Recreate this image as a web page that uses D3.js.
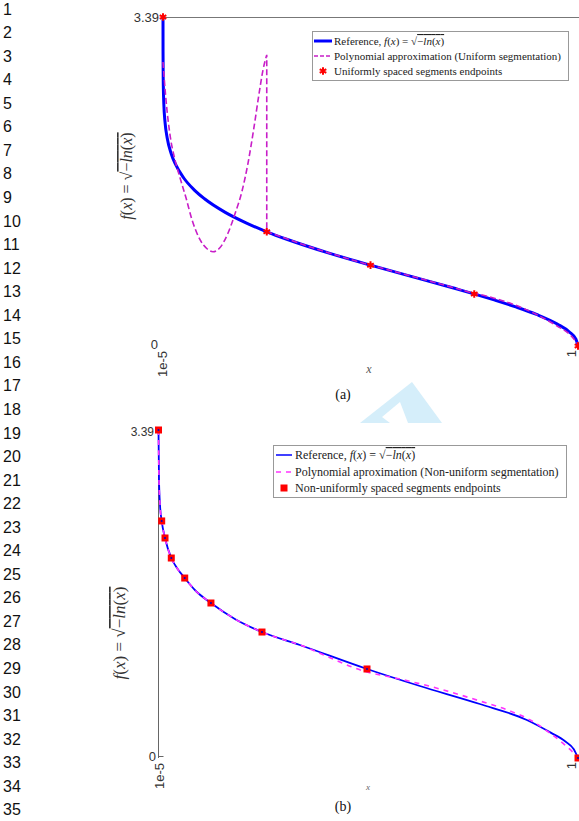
<!DOCTYPE html>
<html>
<head>
<meta charset="utf-8">
<script src="https://cdn.jsdelivr.net/npm/d3@7"></script>
<style>
  body { margin: 0; background: #fff; }
  svg { display: block; }
</style>
</head>
<body>
<svg id="fig" width="579" height="821"></svg>
<script>
// ---- data ----
// panel (a): reference curve f(x) = sqrt(-ln x)
const refAX = [0.00001, 0.0001, 0.0005, 0.002, 0.005, 0.01, 0.02, 0.03, 0.05, 0.075, 0.1, 0.15, 0.2, 0.25, 0.3, 0.4, 0.5, 0.6, 0.7, 0.8, 0.85, 0.9, 0.95, 0.98, 0.995, 1]
const refAY = [3.393, 3.035, 2.757, 2.493, 2.302, 2.146, 1.978, 1.873, 1.731, 1.609, 1.517, 1.377, 1.269, 1.177, 1.097, 0.957, 0.833, 0.715, 0.597, 0.472, 0.403, 0.325, 0.226, 0.142, 0.071, 0]

// panel (a): polynomial approximation, one array per uniform segment
const polyASeg1X = [0.00001, 0.0072, 0.0169, 0.0289, 0.041, 0.0554, 0.0699, 0.0892, 0.106, 0.1205, 0.137, 0.157, 0.1735, 0.19, 0.205, 0.219, 0.231, 0.241, 0.25]
const polyASeg1Y = [2.927, 2.536, 2.175, 1.918, 1.733, 1.527, 1.301, 1.095, 1.002, 0.971, 1.012, 1.167, 1.362, 1.589, 1.887, 2.247, 2.587, 2.845, 3.0]
const polyASeg2X = [0.25, 0.3, 0.35, 0.4, 0.45, 0.5]
const polyASeg2Y = [1.177, 1.102, 1.027, 0.959, 0.894, 0.833]
const polyASeg3X = [0.5, 0.55, 0.6, 0.65, 0.7, 0.75]
const polyASeg3Y = [0.833, 0.776, 0.718, 0.660, 0.601, 0.540]
const polyASeg4X = [0.75, 0.8, 0.85, 0.9, 0.95, 0.98, 1]
const polyASeg4Y = [0.545, 0.49, 0.42, 0.325, 0.205, 0.12, 0.02]

// panel (a): uniformly spaced endpoints
const endAX = [0.00001, 0.25, 0.5, 0.75, 1]
const endAY = [3.39, 1.177, 0.833, 0.536, 0]

// panel (b): reference curve as drawn
const refBX = [0.00001, 0.0012, 0.0036, 0.0076, 0.0155, 0.0305, 0.044, 0.0625, 0.089, 0.125, 0.182, 0.2467, 0.337, 0.497, 0.623, 0.766, 0.878, 0.935, 0.97, 0.99, 1]
const refBY = [3.39, 2.873, 2.615, 2.45, 2.274, 2.067, 1.964, 1.86, 1.726, 1.602, 1.437, 1.302, 1.168, 0.92, 0.744, 0.558, 0.393, 0.262, 0.17, 0.09, 0]

// panel (b): polynomial approximation (non-uniform segmentation)
const polyBX = [0.00001, 0.0012, 0.0036, 0.0076, 0.0155, 0.0305, 0.044, 0.0625, 0.089, 0.125, 0.182, 0.2467, 0.337, 0.497, 0.576, 0.671, 0.766, 0.838, 0.886, 0.933, 0.969, 1]
const polyBY = [3.39, 2.873, 2.615, 2.45, 2.274, 2.067, 1.964, 1.86, 1.726, 1.602, 1.437, 1.302, 1.168, 0.889, 0.816, 0.713, 0.589, 0.486, 0.393, 0.258, 0.134, 0.01]

// panel (b): non-uniformly spaced endpoints
const endBX = [0.00001, 0.0076, 0.0155, 0.0305, 0.0625, 0.125, 0.2467, 0.497, 1]
const endBY = [3.39, 2.45, 2.274, 2.067, 1.86, 1.602, 1.302, 0.92, 0]

const yTop = 3.39
const lineNumbers = d3.range(1, 36)

const zip = (xs, ys) => xs.map((x, i) => [x, ys[i]])

const svg = d3.select("#fig")
const serif = "'Liberation Serif', 'DejaVu Serif', serif"
const sans = "'Liberation Sans', Arial, sans-serif"

// line numbers down the margin
svg.append("g")
  .selectAll("text")
  .data(lineNumbers)
  .enter()
  .append("text")
  .attr("x", 3)
  .attr("y", (d, i) => 9 + i * 23.55)
  .attr("dy", "0.35em")
  .attr("font-family", sans)
  .attr("font-size", "16px")
  .attr("fill", "#111")
  .text(d => d)

// watermark
svg.append("path")
  .attr("d", "M360,423 L412,382 L442,423 L408,423 L400,402 L382,417 L390,423 Z")
  .attr("fill", "#d5eefa")

function ylabel(x, y, size) {
  const t = svg.append("text")
    .attr("transform", `translate(${x},${y}) rotate(-90)`)
    .attr("text-anchor", "middle")
    .attr("font-family", serif)
    .attr("font-size", size)
    .attr("fill", "#333")
  t.append("tspan").attr("font-style", "italic").text("f")
  t.append("tspan").text("(")
  t.append("tspan").attr("font-style", "italic").text("x")
  t.append("tspan").text(")  =  √")
  t.append("tspan").attr("text-decoration", "overline").text("−")
  t.append("tspan").attr("text-decoration", "overline").attr("font-style", "italic").text("ln")
  t.append("tspan").attr("text-decoration", "overline").text("(")
  t.append("tspan").attr("text-decoration", "overline").attr("font-style", "italic").text("x")
  t.append("tspan").attr("text-decoration", "overline").text(")")
}

function refLegendText(g, x, y, size) {
  const t = g.append("text")
    .attr("x", x).attr("y", y)
    .attr("font-family", serif)
    .attr("font-size", size)
    .attr("fill", "#222")
  t.append("tspan").text("Reference, ")
  t.append("tspan").attr("font-style", "italic").text("f")
  t.append("tspan").text("(")
  t.append("tspan").attr("font-style", "italic").text("x")
  t.append("tspan").text(") = √")
  t.append("tspan").attr("text-decoration", "overline").text("−")
  t.append("tspan").attr("text-decoration", "overline").attr("font-style", "italic").text("ln")
  t.append("tspan").attr("text-decoration", "overline").text("(")
  t.append("tspan").attr("text-decoration", "overline").attr("font-style", "italic").text("x")
  t.append("tspan").attr("text-decoration", "overline").text(")")
}

// ================= panel (a) =================
const xA = d3.scaleLinear().domain([0, 1]).range([163, 578])
const yA = d3.scaleLinear().domain([0, yTop]).range([346, 17])
const lineA = d3.line().x(d => xA(d[0])).y(d => yA(d[1])).curve(d3.curveMonotoneX)

// top frame line
svg.append("line")
  .attr("x1", xA(0)).attr("x2", 579)
  .attr("y1", yA(yTop) + 0.5).attr("y2", yA(yTop) + 0.5)
  .attr("stroke", "#777").attr("stroke-width", 1)

svg.append("path")
  .attr("d", lineA(zip(refAX, refAY)))
  .attr("fill", "none")
  .attr("stroke", "#0000ff")
  .attr("stroke-width", 3)

// join the segments so the jump between them is drawn too
const segsA = [[polyASeg1X, polyASeg1Y], [polyASeg2X, polyASeg2Y], [polyASeg3X, polyASeg3Y], [polyASeg4X, polyASeg4Y]]
const polyPathA = segsA.map((s, i) => {
  const p = lineA(zip(s[0], s[1]))
  return i === 0 ? p : "L" + p.slice(1)
}).join("")

svg.append("path")
  .attr("d", polyPathA)
  .attr("fill", "none")
  .attr("stroke", "#c81ec8")
  .attr("stroke-width", 1.6)
  .attr("stroke-dasharray", "6,3")

const star = d3.symbol().type(d3.symbolAsterisk).size(40)
svg.append("g")
  .selectAll("path")
  .data(zip(endAX, endAY))
  .enter()
  .append("path")
  .attr("d", star)
  .attr("transform", d => `translate(${xA(d[0])},${yA(d[1])})`)
  .attr("fill", "none")
  .attr("stroke", "#ff0000")
  .attr("stroke-width", 2)

// ticks (a)
svg.append("text").text("3.39")
  .attr("x", 159).attr("y", yA(yTop)).attr("dy", "0.35em")
  .attr("text-anchor", "end")
  .attr("font-family", sans).attr("font-size", "13px").attr("fill", "#333")
svg.append("text").text("0")
  .attr("x", 158).attr("y", yA(0)).attr("dy", "0.2em")
  .attr("text-anchor", "end")
  .attr("font-family", sans).attr("font-size", "13px").attr("fill", "#333")
svg.append("text").text("1e-5")
  .attr("transform", `translate(${xA(0) + 4},351) rotate(-90)`)
  .attr("text-anchor", "end")
  .attr("font-family", sans).attr("font-size", "13px").attr("fill", "#333")
svg.append("text").text("1")
  .attr("transform", `translate(576,350) rotate(-90)`)
  .attr("text-anchor", "end")
  .attr("font-family", sans).attr("font-size", "13px").attr("fill", "#333")

svg.append("text").text("x")
  .attr("x", 369).attr("y", 373)
  .attr("text-anchor", "middle")
  .attr("font-family", serif).attr("font-style", "italic")
  .attr("font-size", "12px").attr("fill", "#555")
svg.append("text").text("(a)")
  .attr("x", 343).attr("y", 399)
  .attr("text-anchor", "middle")
  .attr("font-family", serif).attr("font-size", "14px").attr("fill", "#111")

ylabel(132, 176, "16px")

// legend (a)
const legA = svg.append("g")
legA.append("rect")
  .attr("x", 312.5).attr("y", 31.5).attr("width", 256).attr("height", 49)
  .attr("fill", "#fff").attr("stroke", "#999")
legA.append("line")
  .attr("x1", 314).attr("x2", 332).attr("y1", 41).attr("y2", 41)
  .attr("stroke", "#0000ff").attr("stroke-width", 3)
refLegendText(legA, 334, 45, "11px")
legA.append("line")
  .attr("x1", 314).attr("x2", 332).attr("y1", 56).attr("y2", 56)
  .attr("stroke", "#c81ec8").attr("stroke-width", 1.6).attr("stroke-dasharray", "4,2")
legA.append("text").text("Polynomial approximation (Uniform segmentation)")
  .attr("x", 334).attr("y", 60)
  .attr("font-family", serif).attr("font-size", "11px").attr("fill", "#222")
legA.append("path")
  .attr("d", star)
  .attr("transform", "translate(323,71)")
  .attr("fill", "none").attr("stroke", "#ff0000").attr("stroke-width", 2)
legA.append("text").text("Uniformly spaced segments endpoints")
  .attr("x", 334).attr("y", 75)
  .attr("font-family", serif).attr("font-size", "11px").attr("fill", "#222")

// ================= panel (b) =================
const xB = d3.scaleLinear().domain([0, 1]).range([158.5, 578])
const yB = d3.scaleLinear().domain([0, yTop]).range([758, 430])
const lineB = d3.line().x(d => xB(d[0])).y(d => yB(d[1])).curve(d3.curveMonotoneX)

// left axis line
svg.append("line")
  .attr("x1", xB(0)).attr("x2", xB(0))
  .attr("y1", yB(yTop)).attr("y2", yB(0))
  .attr("stroke", "#666").attr("stroke-width", 1)
svg.append("line")
  .attr("x1", xB(0)).attr("x2", xB(0) + 5)
  .attr("y1", yB(0) - 1.5).attr("y2", yB(0) - 1.5)
  .attr("stroke", "#666").attr("stroke-width", 1)

svg.append("path")
  .attr("d", lineB(zip(refBX, refBY)))
  .attr("fill", "none")
  .attr("stroke", "#0000ff")
  .attr("stroke-width", 1.8)

svg.append("path")
  .attr("d", lineB(zip(polyBX, polyBY)))
  .attr("fill", "none")
  .attr("stroke", "#ff33ff")
  .attr("stroke-width", 1.6)
  .attr("stroke-dasharray", "5,5")

const endsB = svg.append("g")
  .selectAll("g")
  .data(zip(endBX, endBY))
  .enter()
  .append("g")
  .attr("transform", d => `translate(${xB(d[0])},${yB(d[1])})`)
endsB.append("rect")
  .attr("x", -3.5).attr("y", -3.5).attr("width", 7).attr("height", 7)
  .attr("fill", "#ff0000")
endsB.append("circle")
  .attr("r", 1).attr("fill", "#0000c0")

// ticks (b)
svg.append("text").text("3.39")
  .attr("x", 154).attr("y", yB(yTop) + 2).attr("dy", "0.35em")
  .attr("text-anchor", "end")
  .attr("font-family", sans).attr("font-size", "12px").attr("fill", "#333")
svg.append("text").text("0")
  .attr("x", 156).attr("y", yB(0)).attr("dy", "0.2em")
  .attr("text-anchor", "end")
  .attr("font-family", sans).attr("font-size", "13px").attr("fill", "#333")
svg.append("text").text("1e-5")
  .attr("transform", `translate(${xB(0) + 5},763) rotate(-90)`)
  .attr("text-anchor", "end")
  .attr("font-family", sans).attr("font-size", "13px").attr("fill", "#333")
svg.append("text").text("1")
  .attr("transform", `translate(576,762) rotate(-90)`)
  .attr("text-anchor", "end")
  .attr("font-family", sans).attr("font-size", "13px").attr("fill", "#333")

svg.append("text").text("x")
  .attr("x", 368).attr("y", 790)
  .attr("text-anchor", "middle")
  .attr("font-family", serif).attr("font-style", "italic")
  .attr("font-size", "9px").attr("fill", "#666")
svg.append("text").text("(b)")
  .attr("x", 343).attr("y", 811)
  .attr("text-anchor", "middle")
  .attr("font-family", serif).attr("font-size", "14px").attr("fill", "#111")

ylabel(125, 633, "17px")

// legend (b)
const legB = svg.append("g")
legB.append("rect")
  .attr("x", 273.5).attr("y", 445.5).attr("width", 293).attr("height", 52)
  .attr("fill", "#fff").attr("stroke", "#999")
legB.append("line")
  .attr("x1", 276).attr("x2", 292).attr("y1", 455).attr("y2", 455)
  .attr("stroke", "#0000ff").attr("stroke-width", 1.5)
refLegendText(legB, 295, 459, "12px")
legB.append("line")
  .attr("x1", 276).attr("x2", 292).attr("y1", 472).attr("y2", 472)
  .attr("stroke", "#ff33ff").attr("stroke-width", 1.6).attr("stroke-dasharray", "5,5")
legB.append("text").text("Polynomial aproximation (Non-uniform segmentation)")
  .attr("x", 295).attr("y", 476)
  .attr("font-family", serif).attr("font-size", "12px").attr("fill", "#222")
legB.append("rect")
  .attr("x", 280.5).attr("y", 484.5).attr("width", 7).attr("height", 7)
  .attr("fill", "#ff0000")
legB.append("text").text("Non-uniformly spaced segments endpoints")
  .attr("x", 295).attr("y", 492)
  .attr("font-family", serif).attr("font-size", "12px").attr("fill", "#222")
</script>
</body>
</html>
